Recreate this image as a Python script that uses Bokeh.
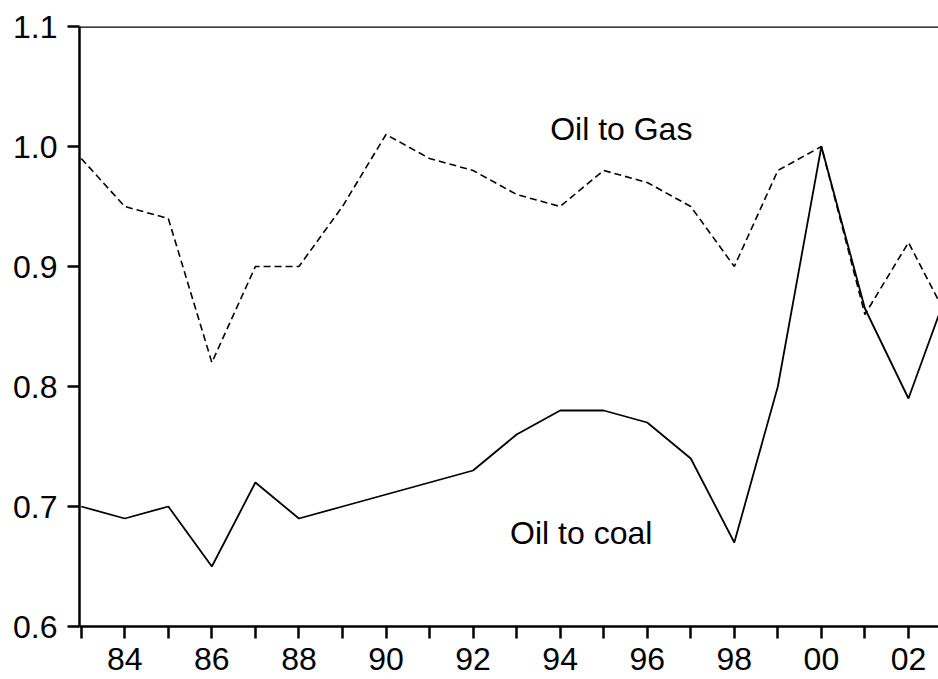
from bokeh.plotting import figure
from bokeh.models import Range1d, FixedTicker, Span, Label
from bokeh.embed import file_html
from bokeh.resources import INLINE

years = list(range(1983, 2004))
oil_to_gas = [0.99, 0.95, 0.94, 0.82, 0.90, 0.90, 0.95, 1.01, 0.99, 0.98, 0.96,
              0.95, 0.98, 0.97, 0.95, 0.90, 0.98, 1.00, 0.86, 0.92, 0.85]
oil_to_coal = [0.70, 0.69, 0.70, 0.65, 0.72, 0.69, 0.70, 0.71, 0.72, 0.73, 0.76,
               0.78, 0.78, 0.77, 0.74, 0.67, 0.80, 1.00, 0.865, 0.79, 0.89]
x_ticks = list(range(1983, 2003))
x_tick_labels = {y: (f"{y % 100:02d}" if y % 2 == 0 else "") for y in x_ticks}
y_ticks = [0.6, 0.7, 0.8, 0.9, 1.0, 1.1]
y_tick_labels = ["0.6", "0.7", "0.8", "0.9", "1.0", "1.1"]

FONT = "Liberation Sans"

p = figure(width=938, height=679, output_backend="svg", toolbar_location=None,
           x_range=Range1d(1982.96, 2002.69), y_range=Range1d(0.6, 1.1),
           min_border_left=79, min_border_right=0, min_border_top=26,
           min_border_bottom=53)
p.outline_line_color = None
p.grid.visible = False
p.background_fill_color = "white"
p.border_fill_color = "white"

p.line(years, oil_to_gas, line_color="black", line_width=1.6, line_dash="7 4")
p.line(years, oil_to_coal, line_color="black", line_width=1.8)

for ax in (p.xaxis[0], p.yaxis[0]):
    ax.axis_line_color = "black"
    ax.axis_line_width = 2.5
    ax.major_tick_line_color = "black"
    ax.major_tick_line_width = 2.5
    ax.major_tick_out = 12
    ax.major_tick_in = 0
    ax.minor_tick_line_color = None
    ax.major_label_text_font = FONT
    ax.major_label_text_font_size = "32px"
    ax.major_label_text_color = "black"

p.xaxis.ticker = FixedTicker(ticks=x_ticks)
p.xaxis.major_label_overrides = x_tick_labels
p.xaxis.major_label_standoff = 9
p.yaxis.ticker = FixedTicker(ticks=y_ticks)
p.yaxis.major_label_overrides = dict(zip(y_ticks, y_tick_labels))
p.yaxis.major_label_standoff = 10

p.add_layout(Span(location=1.1, dimension="width", line_color="black", line_width=2.5))

p.add_layout(Label(x=1993.77, y=1.0142, text="Oil to Gas", text_font=FONT,
                   text_font_size="32px", text_color="black", text_baseline="alphabetic"))
p.add_layout(Label(x=1992.85, y=0.6783, text="Oil to coal", text_font=FONT,
                   text_font_size="32px", text_color="black", text_baseline="alphabetic"))

open("out.html", "w").write(file_html(p, INLINE))
